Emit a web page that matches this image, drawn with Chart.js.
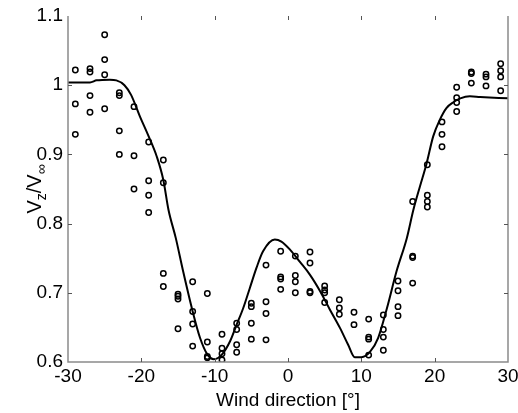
<!DOCTYPE html>
<html>
<head>
<meta charset="utf-8">
<style>
    html, body { margin: 0; padding: 0; background: #fff; }
    #wrap { width: 518px; height: 413px; }
</style>
</head>
<body>
<div id="wrap"><canvas id="windChart" width="518" height="413"></canvas></div>
<script src="https://cdn.jsdelivr.net/npm/chart.js@4.4.0/dist/chart.umd.min.js"></script>
<script>
// Measured speed ratio, grouped by wind direction (deg)
const angleBins = [-29, -27, -25, -23, -21, -19, -17, -15, -13, -11, -9, -7, -5, -3, -1,
                   1, 3, 5, 7, 9, 11, 13, 15, 17, 19, 21, 23, 25, 27, 29];
const measuredRatios = [
    [1.022, 0.973, 0.929],
    [1.024, 1.019, 0.985, 0.961],
    [1.073, 1.037, 1.015, 0.966],
    [0.989, 0.985, 0.934, 0.900],
    [0.969, 0.898, 0.850],
    [0.918, 0.862, 0.841, 0.816],
    [0.892, 0.859, 0.728, 0.709],
    [0.698, 0.695, 0.691, 0.648],
    [0.716, 0.673, 0.655, 0.623],
    [0.699, 0.629, 0.608, 0.606],
    [0.640, 0.620, 0.612, 0.603],
    [0.656, 0.647, 0.625, 0.614],
    [0.685, 0.680, 0.656, 0.633],
    [0.740, 0.687, 0.670, 0.632],
    [0.760, 0.723, 0.720, 0.705],
    [0.753, 0.725, 0.716, 0.700],
    [0.759, 0.743, 0.702, 0.700],
    [0.710, 0.704, 0.700, 0.686],
    [0.690, 0.678, 0.669],
    [0.672, 0.654],
    [0.662, 0.636, 0.633, 0.610],
    [0.668, 0.647, 0.636, 0.617],
    [0.717, 0.703, 0.680, 0.667],
    [0.832, 0.753, 0.751, 0.714],
    [0.885, 0.841, 0.832, 0.824],
    [0.947, 0.929, 0.911],
    [0.997, 0.982, 0.975, 0.962],
    [1.019, 1.017, 1.003],
    [1.016, 1.012, 0.999],
    [1.031, 1.021, 1.012, 0.992]
];

// Fitted curve
const fitAngles = [-30, -27, -26.1, -24.3, -23.4, -22.3, -21.4, -20.2, -19, -17.9,
                   -17, -16.3, -15.3, -14.3, -13, -12, -11, -10.1, -9, -7.9,
                   -7, -6.1, -5.2, -4.3, -3.4, -1.8, -0.9, 0.3, 1.6, 3,
                   4.4, 5.7, 7.1, 8.2, 9.1, 10, 11.2, 12.3, 13.5, 14.8,
                   16.2, 17.1, 18, 18.9, 19.8, 20.7, 21.6, 22.5, 23.5, 24.8, 26.2, 30];
const fitRatios = [1.004, 1.004, 1.007, 1.008, 1.007, 1.0, 0.986, 0.955, 0.926, 0.897,
                   0.863, 0.82, 0.779, 0.731, 0.673, 0.635, 0.611, 0.604, 0.611, 0.63,
                   0.654, 0.678, 0.707, 0.736, 0.76, 0.777, 0.774, 0.762, 0.745, 0.726,
                   0.702, 0.676, 0.649, 0.625, 0.607, 0.607, 0.615, 0.635, 0.678, 0.731,
                   0.779, 0.82, 0.854, 0.887, 0.926, 0.95, 0.967, 0.975, 0.981, 0.984, 0.983, 0.981];

const xTicks = [-30, -20, -10, 0, 10, 20, 30];
const yTicks = [0.6, 0.7, 0.8, 0.9, 1, 1.1];

const fontFamily = "'Liberation Sans', Arial, Helvetica, sans-serif";

const measuredPoints = angleBins.flatMap((a, i) => measuredRatios[i].map(v => ({ x: a, y: v })));
const fitPoints = fitAngles.map((a, i) => ({ x: a, y: fitRatios[i] }));

// Box on left/bottom/right, inward tick marks on all four sides
const axisFrame = {
    id: 'axisFrame',
    afterDraw(chart) {
        const { ctx, chartArea: a, scales: { x, y } } = chart;
        ctx.save();
        ctx.strokeStyle = '#8a8a8a';
        ctx.lineWidth = 1.5;
        ctx.beginPath();
        ctx.moveTo(a.left, a.top);
        ctx.lineTo(a.left, a.bottom);
        ctx.lineTo(a.right, a.bottom);
        ctx.lineTo(a.right, a.top);
        ctx.stroke();

        ctx.strokeStyle = '#555';
        ctx.lineWidth = 1;
        ctx.beginPath();
        xTicks.slice(1, -1).forEach(v => {
            const px = Math.round(x.getPixelForValue(v)) + 0.5;
            ctx.moveTo(px, a.bottom);
            ctx.lineTo(px, a.bottom - 4);
            ctx.moveTo(px, a.top);
            ctx.lineTo(px, a.top + 4);
        });
        yTicks.slice(1, -1).forEach(v => {
            const py = Math.round(y.getPixelForValue(v)) + 0.5;
            ctx.moveTo(a.left, py);
            ctx.lineTo(a.left + 4, py);
            ctx.moveTo(a.right, py);
            ctx.lineTo(a.right - 4, py);
        });
        ctx.stroke();
        ctx.restore();
    }
};

// Y title with subscripts: V_z / V_inf
const ratioTitle = {
    id: 'ratioTitle',
    afterDraw(chart) {
        const { ctx, chartArea: a } = chart;
        const parts = [
            { t: 'V', size: 20, dy: 0 },
            { t: 'z', size: 14, dy: 5 },
            { t: '/V', size: 20, dy: 0 },
            { t: '\u221E', size: 14, dy: 5 }
        ];
        ctx.save();
        ctx.fillStyle = '#000';
        ctx.textBaseline = 'alphabetic';
        ctx.textAlign = 'left';
        let total = 0;
        parts.forEach(p => {
            ctx.font = p.size + 'px ' + fontFamily;
            p.w = ctx.measureText(p.t).width;
            total += p.w;
        });
        ctx.translate(41, (a.top + a.bottom) / 2);
        ctx.rotate(-Math.PI / 2);
        let cx = -total / 2;
        parts.forEach(p => {
            ctx.font = p.size + 'px ' + fontFamily;
            ctx.fillText(p.t, cx, p.dy);
            cx += p.w;
        });
        ctx.restore();
    }
};

const ctx = document.getElementById('windChart').getContext('2d');
new Chart(ctx, {
    type: 'scatter',
    data: {
        datasets: [
            {
                label: 'Fit',
                type: 'line',
                data: fitPoints,
                borderColor: '#000',
                borderWidth: 2,
                pointRadius: 0,
                fill: false,
                cubicInterpolationMode: 'monotone'
            },
            {
                label: 'Measured',
                data: measuredPoints,
                pointStyle: 'circle',
                pointRadius: 2.7,
                borderWidth: 1.5,
                borderColor: '#000',
                backgroundColor: 'rgba(0,0,0,0)'
            }
        ]
    },
    options: {
        responsive: false,
        animation: false,
        devicePixelRatio: 1,
        layout: { padding: { top: 16, right: 10, left: 0, bottom: 0 } },
        plugins: { legend: { display: false }, tooltip: { enabled: false } },
        scales: {
            x: {
                type: 'linear',
                min: -30,
                max: 30,
                grid: { display: false, drawTicks: false },
                border: { display: false },
                afterBuildTicks: s => { s.ticks = xTicks.map(v => ({ value: v })); },
                afterFit: s => { s.height = 51; s.paddingLeft = 0; s.paddingRight = 0; },
                ticks: {
                    color: '#000',
                    font: { family: fontFamily, size: 19 },
                    padding: 3,
                    maxRotation: 0,
                    autoSkip: false,
                    callback: v => String(v)
                },
                title: {
                    display: true,
                    text: 'Wind direction [\u00B0]',
                    color: '#000',
                    font: { family: fontFamily, size: 19 },
                    padding: { top: 0, bottom: 1 }
                }
            },
            y: {
                type: 'linear',
                min: 0.6,
                max: 1.1,
                grid: { display: false, drawTicks: false },
                border: { display: false },
                afterBuildTicks: s => { s.ticks = yTicks.map(v => ({ value: v })); },
                afterFit: s => { s.width = 68; s.paddingTop = 0; s.paddingBottom = 0; },
                ticks: {
                    color: '#000',
                    font: { family: fontFamily, size: 19 },
                    padding: 5,
                    autoSkip: false,
                    callback: v => String(v)
                }
            }
        }
    },
    plugins: [axisFrame, ratioTitle]
});
</script>
</body>
</html>
